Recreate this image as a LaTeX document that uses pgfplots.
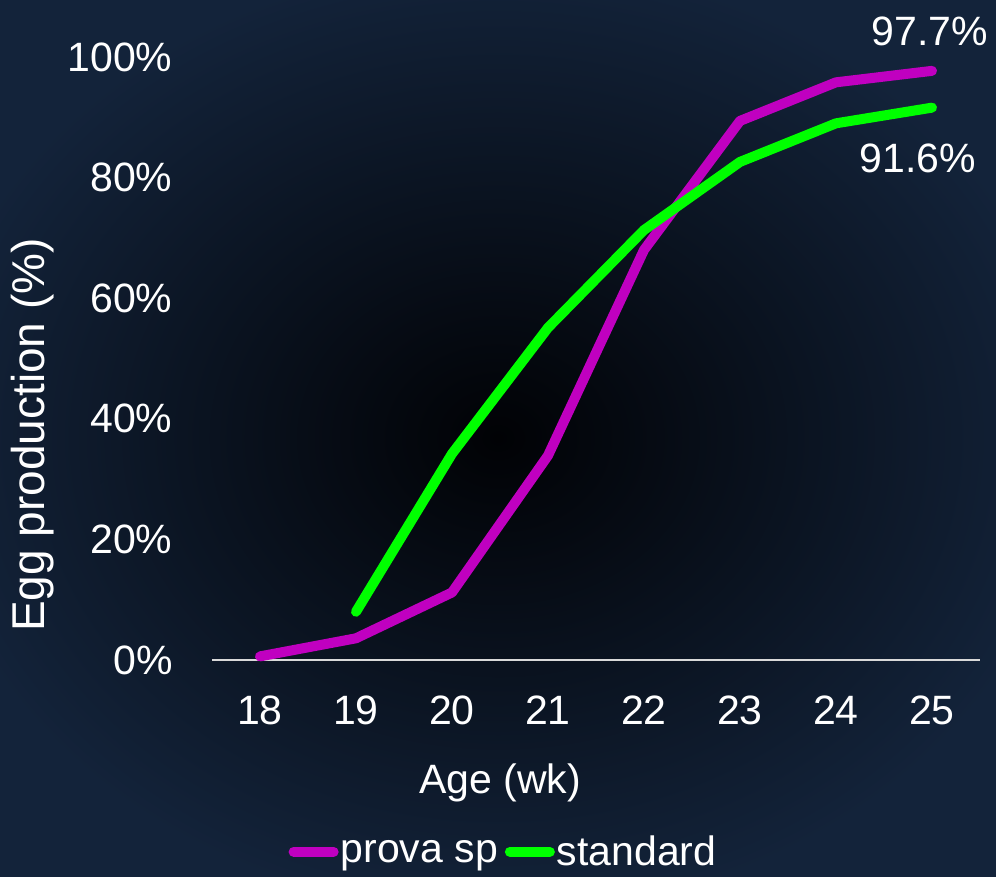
\documentclass[border=0pt]{standalone}
\usepackage{pgfplots}
\pgfplotsset{compat=1.18}
\usepackage{fontspec}
\setmainfont{Liberation Sans}
\definecolor{bgdark}{HTML}{010205}
\definecolor{bgblue}{HTML}{13233A}
\definecolor{provac}{HTML}{C000C0}
\definecolor{stdc}{HTML}{00FF00}
\newcommand{\bigf}{\fontsize{41}{48}\selectfont}
\begin{document}
\begin{tikzpicture}
\useasboundingbox (0pt,0pt) rectangle (996pt,876pt);
\fill[bgdark] (0pt,0pt) rectangle (996pt,876pt);
\shade[inner color=bgdark, outer color=bgblue] (-80pt,-40pt) rectangle (1076pt,916pt);
\begin{axis}[
  at={(212pt,216pt)}, anchor=south west,
  scale only axis, width=768pt, height=603pt,
  xmin=17.5, xmax=25.5, ymin=0, ymax=100,
  clip=false,
  axis y line=none,
  axis x line*=bottom,
  x axis line style={draw=white!85!black, line width=1.5pt, -},
  xtick={18,...,25}, ytick=\empty,
  major tick length=0pt,
  xticklabel style={font=\bigf, text=white, yshift=-32pt},
  /pgf/number format/assume math mode=true,
  legend columns=2,
  legend style={at={(rel axis cs:0.3796,-0.318)}, anchor=center, draw=none, fill=none,
    text=white, font=\bigf, inner sep=0pt,
    nodes={inner xsep=2pt},
    /tikz/every even column/.append style={column sep=5pt}},
  legend image code/.code={\draw[#1, line width=10pt, line cap=round] (0pt,0pt) -- (40pt,0pt);},
]
\addplot[provac, line width=10pt, line cap=round, line join=round] coordinates {
 (18,0.6) (19,3.6) (20,11.2) (21,33.9) (22,68.0) (23,89.4) (24,95.8) (25,97.7)};
\addlegendentry{prova sp}
\addplot[stdc, line width=10pt, line cap=round, line join=round] coordinates {
 (19,8.0) (20,34.2) (21,55.1) (22,71.3) (23,82.6) (24,89.0) (25,91.6)};
\addlegendentry{standard}
\node[text=white, font=\bigf] at (axis cs:24.98,104.2) {97.7\%};
\node[text=white, font=\bigf] at (axis cs:24.85,83.2) {91.6\%};
\end{axis}
\foreach \v/\yy in {0/216,20/336.6,40/457.2,60/577.8,80/698.4,100/819}{
  \node[anchor=east, text=white, font=\bigf] at (176pt,\yy pt) {\v\%};
}
\node[rotate=90, text=white, font=\fontsize{46}{54}\selectfont] at (33pt,441pt) {Egg production (\%)};
\node[text=white, font=\bigf] at (500pt,93pt) {Age (wk)};
\end{tikzpicture}
\end{document}
